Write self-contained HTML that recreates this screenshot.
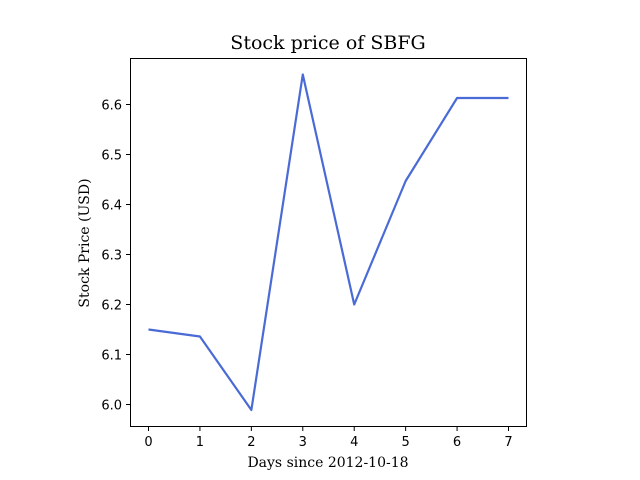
<!DOCTYPE html>
<html><head><meta charset="utf-8"><style>
body{margin:0;background:#fff;}
svg{display:block;}
.tick{font-family:"DejaVu Sans","Liberation Sans",sans-serif;font-size:13px;fill:#000;}
.lab{font-family:"DejaVu Serif","Liberation Serif",serif;font-size:14px;fill:#000;}
</style></head><body>
<svg id="chart" width="640" height="480">
<rect x="0" y="0" width="640" height="480" fill="#fff"/>
<text x="328" y="49" text-anchor="middle" class="lab" style="font-size:19px">Stock price of SBFG</text>
<text x="328" y="467" text-anchor="middle" class="lab">Days since 2012-10-18</text>
<text x="89" y="243" text-anchor="middle" class="lab" transform="rotate(-90 89 243)">Stock Price (USD)</text>
<g id="ticks"></g>
<g id="plot"></g>
<rect x="130.5" y="58.5" width="396" height="368" fill="none" stroke="#000" stroke-width="1"/>
</svg>
<script>
const days = [0,1,2,3,4,5,6,7];
const prices = [6.149,6.135,5.988,6.659,6.199,6.446,6.612,6.612];
const xTicks = [0,1,2,3,4,5,6,7];
const yTicks = [6.0,6.1,6.2,6.3,6.4,6.5,6.6];
const ns="http://www.w3.org/2000/svg";
function xs(v){return 148.5+(v-0)*(508.5-148.5)/7;}
function ys(v){return 404+(v-6.0)*(104-404)/0.6;}
const tg=document.getElementById('ticks');
xTicks.forEach(t=>{
  const l=document.createElementNS(ns,'line');
  l.setAttribute('x1',xs(t));l.setAttribute('x2',xs(t));l.setAttribute('y1',427);l.setAttribute('y2',431);l.setAttribute('stroke','#000');
  
  
  tg.appendChild(l);
  const tx=document.createElementNS(ns,'text');
  tx.setAttribute('x',xs(t));tx.setAttribute('y',446);tx.setAttribute('text-anchor','middle');tx.setAttribute('class','tick');
  tx.textContent=t;
  
  
  tg.appendChild(tx);
});
yTicks.forEach(t=>{
  const y=ys(t)+0.5;
  const l=document.createElementNS(ns,'line');
  l.setAttribute('x1',126);l.setAttribute('x2',130);l.setAttribute('y1',y);l.setAttribute('y2',y);l.setAttribute('stroke','#000');
  
  
  tg.appendChild(l);
  const tx=document.createElementNS(ns,'text');
  tx.setAttribute('x',122);tx.setAttribute('y',y+5);tx.setAttribute('text-anchor','end');tx.setAttribute('class','tick');
  tx.textContent=t.toFixed(1);
  
  
  tg.appendChild(tx);
});
const p=document.createElementNS(ns,'polyline');
p.setAttribute('points',days.map((d,i)=>xs(d)+','+ys(prices[i])).join(' '));
p.setAttribute('fill','none');p.setAttribute('stroke','#4a6bd6');p.setAttribute('stroke-width','2.2');p.setAttribute('stroke-linejoin','round');


document.getElementById('plot').appendChild(p);
</script>
</body></html>
